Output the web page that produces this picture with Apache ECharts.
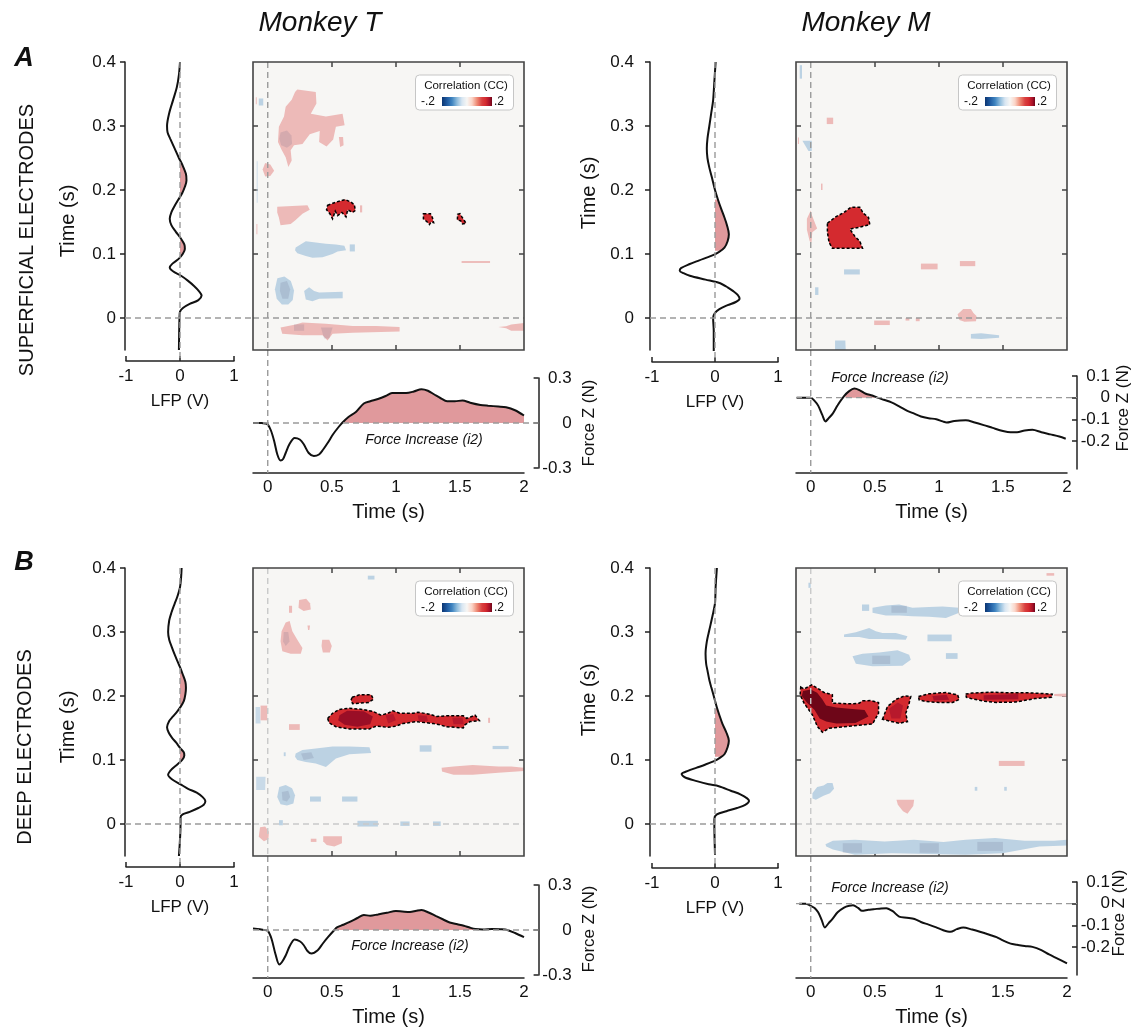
<!DOCTYPE html>
<html><head><meta charset="utf-8">
<script src="https://cdn.jsdelivr.net/npm/echarts@6/dist/echarts.min.js"></script>
<style>html,body{margin:0;padding:0;background:#fff}#c{width:1137px;height:1033px}</style>
</head><body><div id="c"></div>
<script>
// ---------------- DATA ----------------
const lfpTicks = [-1, 0, 1];
const lagTicks = [0, 0.1, 0.2, 0.3, 0.4];
const heatXTicks = [0.5, 1, 1.5];
const heatYTicks = [0.1, 0.2, 0.3];
const timeTicks = [0, 0.5, 1, 1.5, 2];
const forceTicksT = [-0.3, 0, 0.3];
const forceTicksM = [-0.2, -0.1, 0, 0.1];

// LFP traces: [lag time (s), LFP (V)]
const lfpAT = [[0.40,0.00],[0.38,-0.02],[0.36,-0.06],[0.34,-0.13],[0.32,-0.2],[0.30,-0.24],[0.29,-0.23],[0.28,-0.18],[0.265,-0.1],[0.25,-0.02],[0.24,0.04],[0.225,0.11],[0.215,0.12],[0.205,0.09],[0.195,0.04],[0.185,-0.03],[0.175,-0.1],[0.165,-0.16],[0.155,-0.19],[0.145,-0.16],[0.135,-0.08],[0.125,0.01],[0.115,0.08],[0.108,0.09],[0.10,0.05],[0.092,-0.03],[0.085,-0.14],[0.079,-0.19],[0.073,-0.13],[0.066,0.02],[0.058,0.15],[0.05,0.26],[0.042,0.35],[0.035,0.40],[0.028,0.34],[0.022,0.18],[0.016,0.06],[0.01,0.0],[0.0,-0.01],[-0.05,-0.02]];
const lfpAM = [[0.40,0.01],[0.37,-0.01],[0.34,-0.03],[0.32,-0.06],[0.30,-0.09],[0.28,-0.12],[0.265,-0.13],[0.25,-0.12],[0.235,-0.09],[0.22,-0.05],[0.20,0.0],[0.184,0.05],[0.17,0.1],[0.157,0.15],[0.145,0.19],[0.131,0.22],[0.12,0.2],[0.11,0.15],[0.103,0.06],[0.097,-0.06],[0.09,-0.25],[0.084,-0.41],[0.078,-0.54],[0.074,-0.56],[0.07,-0.5],[0.066,-0.4],[0.06,-0.15],[0.055,0.06],[0.048,0.2],[0.042,0.29],[0.036,0.36],[0.03,0.39],[0.025,0.33],[0.02,0.2],[0.014,0.07],[0.008,0.0],[0.0,-0.03],[-0.02,-0.02],[-0.055,-0.02]];
const lfpBT = [[0.40,0.03],[0.385,0.02],[0.37,0.0],[0.355,-0.05],[0.344,-0.1],[0.33,-0.16],[0.318,-0.2],[0.30,-0.22],[0.288,-0.2],[0.276,-0.15],[0.265,-0.1],[0.255,-0.05],[0.245,0.0],[0.234,0.05],[0.222,0.1],[0.213,0.11],[0.203,0.1],[0.192,0.07],[0.183,0.01],[0.176,-0.05],[0.168,-0.13],[0.161,-0.2],[0.151,-0.24],[0.143,-0.21],[0.135,-0.15],[0.127,-0.07],[0.119,0.0],[0.112,0.07],[0.107,0.08],[0.1,0.04],[0.093,-0.05],[0.085,-0.16],[0.077,-0.22],[0.07,-0.15],[0.062,0.01],[0.055,0.15],[0.049,0.31],[0.042,0.42],[0.036,0.47],[0.03,0.44],[0.025,0.34],[0.019,0.18],[0.015,0.05],[0.01,0.01],[0.0,0.01],[-0.05,-0.02]];
const lfpBM = [[0.40,0.03],[0.37,0.01],[0.345,0.0],[0.325,-0.04],[0.303,-0.09],[0.285,-0.13],[0.266,-0.15],[0.25,-0.14],[0.24,-0.12],[0.225,-0.09],[0.214,-0.06],[0.2,-0.02],[0.182,0.03],[0.17,0.07],[0.156,0.12],[0.143,0.18],[0.13,0.22],[0.12,0.2],[0.109,0.15],[0.103,0.07],[0.099,0.0],[0.093,-0.15],[0.088,-0.29],[0.083,-0.43],[0.078,-0.53],[0.073,-0.48],[0.067,-0.29],[0.062,-0.1],[0.059,0.06],[0.052,0.25],[0.046,0.41],[0.04,0.51],[0.036,0.54],[0.03,0.48],[0.025,0.35],[0.02,0.18],[0.015,0.03],[0.008,-0.01],[0.0,-0.01],[-0.048,0.0]];
// shaded LFP lag windows [from, to]
const lfpFillAT = [[0.19,0.246],[0.095,0.122]];
const lfpFillAM = [[0.105,0.185]];
const lfpFillBT = [[0.183,0.24],[0.099,0.119]];
const lfpFillBM = [[0.105,0.18]];

// Force traces: [time (s), force (N)]
const forceAT = [[-0.115,0.0],[-0.05,0.0],[-0.02,-0.003],[0.0,-0.01],[0.025,-0.05],[0.05,-0.12],[0.075,-0.21],[0.1,-0.25],[0.12,-0.24],[0.14,-0.2],[0.17,-0.14],[0.21,-0.1],[0.25,-0.11],[0.28,-0.14],[0.32,-0.2],[0.36,-0.22],[0.4,-0.21],[0.43,-0.18],[0.47,-0.13],[0.51,-0.075],[0.55,-0.03],[0.58,0.0],[0.63,0.04],[0.69,0.075],[0.75,0.13],[0.8,0.145],[0.86,0.16],[0.92,0.18],[0.97,0.2],[1.02,0.2],[1.08,0.2],[1.14,0.21],[1.2,0.225],[1.25,0.215],[1.3,0.19],[1.35,0.165],[1.4,0.145],[1.46,0.145],[1.52,0.15],[1.58,0.135],[1.66,0.12],[1.72,0.115],[1.8,0.11],[1.86,0.105],[1.93,0.085],[2.0,0.05]];
const forceAM = [[-0.11,0.0],[-0.05,0.0],[0.0,0.0],[0.03,-0.015],[0.058,-0.037],[0.09,-0.08],[0.115,-0.11],[0.14,-0.095],[0.17,-0.075],[0.21,-0.035],[0.26,0.007],[0.3,0.03],[0.34,0.042],[0.38,0.035],[0.43,0.018],[0.48,0.01],[0.52,0.0],[0.57,-0.01],[0.63,-0.022],[0.69,-0.04],[0.75,-0.06],[0.8,-0.072],[0.86,-0.087],[0.92,-0.095],[0.98,-0.1],[1.03,-0.11],[1.06,-0.115],[1.12,-0.108],[1.21,-0.105],[1.28,-0.115],[1.35,-0.127],[1.42,-0.14],[1.5,-0.154],[1.56,-0.16],[1.61,-0.16],[1.67,-0.152],[1.73,-0.149],[1.8,-0.16],[1.87,-0.17],[1.94,-0.18],[1.99,-0.19]];
const forceBT = [[-0.115,0.01],[-0.06,0.005],[-0.03,0.0],[0.0,-0.005],[0.03,-0.06],[0.06,-0.16],[0.09,-0.23],[0.11,-0.215],[0.14,-0.17],[0.17,-0.11],[0.21,-0.063],[0.25,-0.075],[0.28,-0.1],[0.31,-0.14],[0.34,-0.157],[0.39,-0.135],[0.43,-0.09],[0.47,-0.048],[0.52,0.0],[0.54,0.017],[0.59,0.035],[0.64,0.054],[0.7,0.08],[0.75,0.1],[0.8,0.095],[0.86,0.104],[0.93,0.115],[1.0,0.126],[1.05,0.123],[1.11,0.12],[1.16,0.128],[1.2,0.133],[1.26,0.115],[1.31,0.094],[1.37,0.07],[1.42,0.05],[1.48,0.038],[1.53,0.028],[1.58,0.015],[1.62,0.007],[1.68,0.004],[1.75,0.007],[1.82,0.005],[1.87,0.0],[1.93,-0.02],[2.0,-0.048]];
const forceBM = [[-0.09,0.0],[-0.04,0.0],[0.0,-0.01],[0.03,-0.02],[0.058,-0.04],[0.085,-0.075],[0.11,-0.11],[0.14,-0.09],[0.17,-0.07],[0.21,-0.04],[0.26,-0.018],[0.3,-0.01],[0.33,-0.008],[0.37,-0.02],[0.4,-0.033],[0.45,-0.028],[0.49,-0.026],[0.55,-0.022],[0.59,-0.021],[0.64,-0.035],[0.69,-0.06],[0.75,-0.065],[0.81,-0.071],[0.86,-0.085],[0.92,-0.097],[0.98,-0.11],[1.03,-0.122],[1.09,-0.13],[1.14,-0.118],[1.19,-0.11],[1.26,-0.12],[1.32,-0.13],[1.4,-0.145],[1.45,-0.155],[1.5,-0.17],[1.56,-0.185],[1.61,-0.19],[1.67,-0.196],[1.73,-0.2],[1.8,-0.215],[1.86,-0.235],[1.93,-0.255],[2.0,-0.276]];
const forceFillAT = [[0.58,2.0]];
const forceFillAM = [[0.27,0.5]];
const forceFillBT = [[0.53,1.62]];
const forceFillBM = [];

// Correlation clusters: cc value, kind (n = not significant, s = significant cluster, c = stronger core, g = darker patch), outline [time, lag]
const blobsAT = [
{cc:0.13,kind:'n',pts:[[0.231,0.357],[0.375,0.353],[0.380,0.335],[0.336,0.319],[0.454,0.315],[0.584,0.319],[0.600,0.301],[0.532,0.299],[0.511,0.279],[0.459,0.268],[0.401,0.275],[0.406,0.292],[0.328,0.287],[0.271,0.272],[0.205,0.270],[0.179,0.262],[0.187,0.246],[0.161,0.236],[0.140,0.251],[0.108,0.263],[0.080,0.275],[0.087,0.299],[0.127,0.315],[0.140,0.330],[0.187,0.341],[0.213,0.353]]},
{cc:0.13,kind:'n',pts:[[0.555,0.283],[0.588,0.283],[0.592,0.270],[0.565,0.267]]},
{cc:0.13,kind:'n',pts:[[-0.04,0.232],[-0.02,0.242],[0.02,0.240],[0.05,0.230],[0.02,0.222],[-0.02,0.221]]},
{cc:-0.1,kind:'n',pts:[[-0.086,0.245],[-0.079,0.245],[-0.079,0.18],[-0.086,0.18]]},
{cc:-0.12,kind:'n',pts:[[-0.07,0.343],[-0.035,0.343],[-0.035,0.332],[-0.07,0.332]]},
{cc:0.13,kind:'n',pts:[[-0.093,0.345],[-0.086,0.345],[-0.086,0.334],[-0.093,0.334]]},
{cc:0.13,kind:'n',pts:[[-0.088,0.147],[-0.081,0.147],[-0.081,0.131],[-0.088,0.131]]},
{cc:0.13,kind:'n',pts:[[0.074,0.174],[0.310,0.176],[0.328,0.169],[0.271,0.163],[0.218,0.153],[0.179,0.147],[0.100,0.145],[0.087,0.157],[0.074,0.165]]},
{cc:0.13,kind:'n',pts:[[0.72,0.176],[0.737,0.176],[0.737,0.165],[0.72,0.165]]},
{cc:-0.12,kind:'n',pts:[[0.218,0.110],[0.297,0.120],[0.375,0.118],[0.454,0.116],[0.532,0.115],[0.598,0.113],[0.611,0.106],[0.545,0.104],[0.506,0.100],[0.428,0.095],[0.349,0.094],[0.297,0.097],[0.231,0.101],[0.213,0.106]]},
{cc:-0.12,kind:'n',pts:[[0.64,0.115],[0.68,0.115],[0.68,0.104],[0.64,0.104]]},
{cc:0.13,kind:'n',pts:[[1.513,0.089],[1.735,0.089],[1.735,0.086],[1.513,0.086]]},
{cc:-0.12,kind:'n',pts:[[0.075,0.062],[0.13,0.065],[0.18,0.058],[0.205,0.043],[0.195,0.028],[0.16,0.021],[0.11,0.021],[0.07,0.03],[0.056,0.045]]},
{cc:-0.12,kind:'n',pts:[[0.284,0.042],[0.323,0.048],[0.362,0.042],[0.401,0.040],[0.585,0.041],[0.585,0.031],[0.401,0.030],[0.349,0.026],[0.297,0.029]]},
{cc:0.13,kind:'n',pts:[[0.100,-0.015],[0.218,-0.010],[0.271,-0.007],[0.454,-0.009],[0.663,-0.0125],[0.846,-0.0125],[1.029,-0.014],[1.029,-0.021],[0.663,-0.023],[0.506,-0.0246],[0.467,-0.035],[0.428,-0.027],[0.271,-0.027],[0.113,-0.0246]]},
{cc:0.13,kind:'n',pts:[[1.80,-0.014],[1.86,-0.013],[1.9,-0.01],[2.0,-0.008],[2.0,-0.02],[1.9,-0.02],[1.86,-0.016]]},
{cc:0,kind:'g',pts:[[0.10,0.29],[0.15,0.293],[0.185,0.285],[0.19,0.272],[0.15,0.266],[0.105,0.27],[0.09,0.28]]},
{cc:0,kind:'g',pts:[[0.1,0.055],[0.15,0.058],[0.175,0.045],[0.16,0.03],[0.115,0.03],[0.095,0.042]]},
{cc:0,kind:'g',pts:[[0.205,-0.01],[0.284,-0.01],[0.284,-0.02],[0.205,-0.02]]},
{cc:0,kind:'g',pts:[[0.415,-0.015],[0.506,-0.015],[0.48,-0.032],[0.44,-0.032]]},
{cc:0.15,kind:'s',pts:[[0.467,0.176],[0.532,0.181],[0.605,0.185],[0.650,0.181],[0.676,0.177],[0.684,0.168],[0.663,0.165],[0.624,0.169],[0.611,0.158],[0.579,0.165],[0.545,0.160],[0.527,0.167],[0.506,0.155],[0.485,0.163],[0.459,0.169]]},
{cc:0.15,kind:'s',pts:[[1.215,0.163],[1.27,0.163],[1.285,0.157],[1.295,0.149],[1.275,0.150],[1.262,0.146],[1.245,0.150],[1.215,0.155]]},
{cc:0.15,kind:'s',pts:[[1.482,0.162],[1.50,0.163],[1.515,0.158],[1.535,0.152],[1.548,0.148],[1.52,0.147],[1.505,0.152],[1.48,0.153]]}
];
const blobsAM = [
{cc:0.13,kind:'n',pts:[[-0.03,0.155],[0.0,0.168],[0.01,0.16],[0.04,0.145],[0.05,0.14],[0.012,0.134],[0.006,0.118],[-0.008,0.12],[-0.03,0.138]]},
{cc:0.13,kind:'n',pts:[[0.125,0.313],[0.175,0.313],[0.175,0.303],[0.125,0.303]]},
{cc:-0.12,kind:'n',pts:[[-0.065,0.277],[0.008,0.277],[0.008,0.261],[-0.018,0.261]]},
{cc:-0.12,kind:'n',pts:[[-0.086,0.395],[-0.068,0.395],[-0.068,0.374],[-0.086,0.374]]},
{cc:0.13,kind:'n',pts:[[0.08,0.21],[0.092,0.21],[0.092,0.2],[0.08,0.2]]},
{cc:0.13,kind:'n',pts:[[-0.1,0.282],[-0.092,0.282],[-0.092,0.272],[-0.1,0.272]]},
{cc:-0.12,kind:'n',pts:[[0.26,0.076],[0.383,0.076],[0.383,0.068],[0.26,0.068]]},
{cc:-0.12,kind:'n',pts:[[0.034,0.048],[0.06,0.048],[0.06,0.036],[0.034,0.036]]},
{cc:0.13,kind:'n',pts:[[0.86,0.085],[0.99,0.085],[0.99,0.076],[0.86,0.076]]},
{cc:0.13,kind:'n',pts:[[1.164,0.089],[1.284,0.089],[1.284,0.081],[1.164,0.081]]},
{cc:0.13,kind:'n',pts:[[1.146,0.006],[1.17,0.01],[1.19,0.014],[1.25,0.014],[1.27,0.008],[1.294,0.003],[1.29,-0.005],[1.2,-0.006],[1.16,-0.003]]},
{cc:0.13,kind:'n',pts:[[0.495,-0.004],[0.617,-0.004],[0.617,-0.011],[0.495,-0.011]]},
{cc:0.13,kind:'n',pts:[[0.74,0.0],[0.77,0.0],[0.77,-0.004],[0.74,-0.004]]},
{cc:0.13,kind:'n',pts:[[0.82,0.0],[0.85,0.0],[0.85,-0.005],[0.82,-0.005]]},
{cc:-0.12,kind:'n',pts:[[1.25,-0.025],[1.33,-0.024],[1.47,-0.027],[1.47,-0.031],[1.33,-0.033],[1.25,-0.032]]},
{cc:-0.12,kind:'n',pts:[[0.19,-0.035],[0.27,-0.035],[0.273,-0.05],[0.19,-0.05]]},
{cc:0.15,kind:'s',pts:[[0.130,0.148],[0.195,0.158],[0.260,0.165],[0.3125,0.173],[0.383,0.173],[0.409,0.164],[0.451,0.157],[0.461,0.146],[0.383,0.142],[0.305,0.139],[0.346,0.127],[0.383,0.120],[0.404,0.109],[0.169,0.109],[0.143,0.118],[0.130,0.134]]}
];
const blobsBT = [
{cc:0.13,kind:'n',pts:[[0.140,0.315],[0.171,0.317],[0.192,0.301],[0.231,0.288],[0.271,0.275],[0.258,0.266],[0.179,0.266],[0.114,0.270],[0.100,0.2855],[0.108,0.301]]},
{cc:0.13,kind:'n',pts:[[0.245,0.350],[0.30,0.352],[0.33,0.345],[0.336,0.335],[0.28,0.333],[0.24,0.338]]},
{cc:0.13,kind:'n',pts:[[0.166,0.341],[0.19,0.341],[0.19,0.33],[0.166,0.33]]},
{cc:0.13,kind:'n',pts:[[0.31,0.31],[0.33,0.31],[0.325,0.303],[0.315,0.303]]},
{cc:0.13,kind:'n',pts:[[0.425,0.288],[0.48,0.288],[0.50,0.278],[0.485,0.268],[0.43,0.268],[0.42,0.278]]},
{cc:0.13,kind:'n',pts:[[0.166,0.156],[0.25,0.156],[0.25,0.147],[0.166,0.147]]},
{cc:-0.12,kind:'n',pts:[[0.218,0.110],[0.271,0.1156],[0.375,0.118],[0.506,0.121],[0.637,0.121],[0.794,0.120],[0.807,0.111],[0.637,0.109],[0.532,0.1025],[0.454,0.089],[0.375,0.0946],[0.297,0.097],[0.231,0.0999],[0.213,0.105]]},
{cc:-0.12,kind:'n',pts:[[1.186,0.123],[1.278,0.123],[1.278,0.113],[1.186,0.113]]},
{cc:-0.12,kind:'n',pts:[[0.125,0.112],[0.14,0.112],[0.14,0.106],[0.125,0.106]]},
{cc:-0.12,kind:'n',pts:[[1.755,0.122],[1.88,0.122],[1.88,0.117],[1.755,0.117]]},
{cc:0.13,kind:'n',pts:[[1.357,0.088],[1.45,0.09],[1.6,0.092],[1.8,0.09],[1.9,0.09],[2.0,0.088],[2.0,0.083],[1.8,0.08],[1.6,0.077],[1.45,0.077],[1.36,0.082]]},
{cc:0.13,kind:'n',pts:[[1.72,0.166],[1.735,0.166],[1.735,0.158],[1.72,0.158]]},
{cc:-0.12,kind:'n',pts:[[0.09,0.058],[0.14,0.061],[0.19,0.056],[0.213,0.045],[0.2,0.032],[0.15,0.029],[0.1,0.031],[0.074,0.042]]},
{cc:-0.12,kind:'n',pts:[[0.33,0.043],[0.415,0.043],[0.415,0.035],[0.33,0.035]]},
{cc:-0.12,kind:'n',pts:[[0.58,0.043],[0.70,0.043],[0.70,0.035],[0.58,0.035]]},
{cc:-0.12,kind:'n',pts:[[0.088,0.006],[0.118,0.006],[0.118,-0.002],[0.088,-0.002]]},
{cc:-0.12,kind:'n',pts:[[0.70,0.005],[0.86,0.005],[0.86,-0.004],[0.70,-0.004]]},
{cc:-0.12,kind:'n',pts:[[1.035,0.004],[1.107,0.004],[1.107,-0.003],[1.035,-0.003]]},
{cc:-0.12,kind:'n',pts:[[1.29,0.004],[1.35,0.004],[1.35,-0.003],[1.29,-0.003]]},
{cc:0.13,kind:'n',pts:[[-0.06,-0.005],[-0.02,-0.004],[0.009,-0.012],[0.005,-0.024],[-0.03,-0.027],[-0.07,-0.02]]},
{cc:0.13,kind:'n',pts:[[0.433,-0.019],[0.579,-0.019],[0.579,-0.03],[0.52,-0.035],[0.46,-0.033],[0.433,-0.027]]},
{cc:0.13,kind:'n',pts:[[0.336,-0.023],[0.38,-0.023],[0.38,-0.028],[0.336,-0.028]]},
{cc:-0.1,kind:'n',pts:[[-0.095,0.183],[-0.06,0.183],[-0.056,0.157],[-0.095,0.157]]},
{cc:0.13,kind:'n',pts:[[-0.056,0.185],[-0.004,0.185],[-0.004,0.162],[-0.056,0.162]]},
{cc:-0.1,kind:'n',pts:[[-0.09,0.074],[-0.017,0.074],[-0.02,0.053],[-0.09,0.053]]},
{cc:-0.12,kind:'n',pts:[[0.781,0.388],[0.833,0.388],[0.833,0.382],[0.781,0.382]]},
{cc:0,kind:'g',pts:[[0.125,0.3],[0.16,0.3],[0.17,0.285],[0.14,0.278],[0.12,0.285]]},
{cc:0,kind:'g',pts:[[0.11,0.05],[0.16,0.052],[0.175,0.042],[0.15,0.035],[0.115,0.037]]},
{cc:0,kind:'g',pts:[[0.26,0.11],[0.34,0.112],[0.36,0.103],[0.28,0.1]]},
{cc:0.15,kind:'s',pts:[[0.467,0.165],[0.506,0.173],[0.558,0.179],[0.637,0.181],[0.741,0.179],[0.820,0.176],[0.885,0.170],[0.938,0.173],[0.977,0.177],[1.029,0.173],[1.134,0.173],[1.173,0.1746],[1.265,0.1715],[1.317,0.168],[1.396,0.169],[1.526,0.169],[1.553,0.165],[1.618,0.170],[1.652,0.1616],[1.579,0.160],[1.539,0.155],[1.526,0.150],[1.396,0.152],[1.343,0.155],[1.291,0.157],[1.160,0.160],[1.055,0.157],[1.003,0.153],[0.938,0.151],[0.846,0.153],[0.794,0.1485],[0.637,0.1485],[0.532,0.152],[0.480,0.158]]},
{cc:0.15,kind:'s',pts:[[0.658,0.198],[0.716,0.2018],[0.807,0.2018],[0.825,0.195],[0.788,0.190],[0.728,0.189],[0.663,0.188],[0.650,0.193]]},
{cc:0.185,kind:'c',pts:[[0.56,0.17],[0.62,0.177],[0.75,0.176],[0.82,0.168],[0.80,0.156],[0.7,0.152],[0.6,0.155],[0.55,0.162]]},
{cc:0.17,kind:'c',pts:[[0.92,0.17],[0.98,0.172],[1.0,0.162],[0.94,0.157]]},
{cc:0.17,kind:'c',pts:[[1.17,0.17],[1.24,0.169],[1.25,0.161],[1.18,0.16]]},
{cc:0.17,kind:'c',pts:[[1.44,0.166],[1.52,0.166],[1.53,0.156],[1.45,0.156]]}
];
const blobsBM = [
{cc:-0.12,kind:'n',pts:[[0.482,0.338],[0.586,0.3414],[0.690,0.343],[0.794,0.338],[0.924,0.339],[1.029,0.340],[1.159,0.338],[1.159,0.330],[1.055,0.322],[0.924,0.3237],[0.794,0.3247],[0.690,0.3257],[0.586,0.3257],[0.482,0.330]]},
{cc:-0.12,kind:'n',pts:[[0.40,0.343],[0.456,0.343],[0.456,0.333],[0.40,0.333]]},
{cc:-0.12,kind:'n',pts:[[0.260,0.296],[0.352,0.2996],[0.456,0.3064],[0.508,0.3012],[0.560,0.2986],[0.664,0.2986],[0.755,0.2933],[0.742,0.288],[0.560,0.2891],[0.456,0.2891],[0.378,0.2923],[0.260,0.2923]]},
{cc:-0.12,kind:'n',pts:[[0.911,0.296],[1.10,0.296],[1.10,0.2855],[0.911,0.2855]]},
{cc:-0.12,kind:'n',pts:[[0.326,0.262],[0.404,0.266],[0.534,0.268],[0.677,0.2714],[0.768,0.2646],[0.781,0.2567],[0.716,0.2473],[0.482,0.2463],[0.352,0.2505]]},
{cc:-0.12,kind:'n',pts:[[1.055,0.267],[1.146,0.267],[1.146,0.258],[1.055,0.258]]},
{cc:-0.12,kind:'n',pts:[[0.115,-0.0315],[0.173,-0.026],[0.345,-0.0246],[0.576,-0.0273],[0.806,-0.0246],[1.036,-0.0283],[1.209,-0.0246],[1.439,-0.022],[1.669,-0.026],[1.899,-0.026],[2.0,-0.0246],[2.0,-0.0335],[1.784,-0.035],[1.496,-0.0456],[1.209,-0.048],[0.921,-0.047],[0.633,-0.0456],[0.345,-0.048],[0.173,-0.040],[0.121,-0.035]]},
{cc:-0.12,kind:'n',pts:[[0.013,0.048],[0.05,0.058],[0.1,0.06],[0.13,0.064],[0.17,0.064],[0.182,0.055],[0.15,0.048],[0.1,0.044],[0.04,0.038],[0.013,0.04]]},
{cc:-0.12,kind:'n',pts:[[1.28,0.058],[1.30,0.058],[1.30,0.052],[1.28,0.052]]},
{cc:-0.12,kind:'n',pts:[[1.51,0.058],[1.53,0.058],[1.53,0.052],[1.51,0.052]]},
{cc:-0.12,kind:'n',pts:[[-0.018,0.377],[0.0,0.377],[0.0,0.369],[-0.018,0.369]]},
{cc:0.13,kind:'n',pts:[[0.669,0.038],[0.807,0.038],[0.80,0.028],[0.755,0.016],[0.72,0.02],[0.68,0.03]]},
{cc:0.13,kind:'n',pts:[[1.468,0.0986],[1.669,0.0986],[1.669,0.0907],[1.468,0.0907]]},
{cc:0.13,kind:'n',pts:[[1.84,0.392],[1.9,0.392],[1.9,0.388],[1.84,0.388]]},
{cc:0.13,kind:'n',pts:[[1.9,0.203],[2.0,0.204],[2.0,0.199],[1.9,0.2]]},
{cc:0,kind:'g',pts:[[0.63,0.341],[0.75,0.341],[0.75,0.33],[0.63,0.33]]},
{cc:0,kind:'g',pts:[[0.48,0.263],[0.62,0.263],[0.62,0.25],[0.48,0.25]]},
{cc:0,kind:'g',pts:[[0.25,-0.03],[0.4,-0.03],[0.4,-0.045],[0.25,-0.045]]},
{cc:0,kind:'g',pts:[[0.85,-0.03],[1.0,-0.03],[1.0,-0.045],[0.85,-0.045]]},
{cc:0,kind:'g',pts:[[1.3,-0.028],[1.5,-0.028],[1.5,-0.042],[1.3,-0.042]]},
{cc:0.15,kind:'s',pts:[[-0.078,0.214],[-0.052,0.211],[0.008,0.2175],[0.052,0.2123],[0.104,0.2055],[0.169,0.202],[0.169,0.1888],[0.326,0.1877],[0.378,0.1888],[0.404,0.1924],[0.469,0.1929],[0.529,0.1898],[0.529,0.173],[0.482,0.1563],[0.404,0.1548],[0.326,0.1532],[0.221,0.1511],[0.143,0.1495],[0.091,0.1433],[0.052,0.1522],[0.013,0.1705],[-0.052,0.1888],[-0.083,0.202]]},
{cc:0.15,kind:'s',pts:[[0.560,0.1637],[0.599,0.1835],[0.664,0.1946],[0.729,0.200],[0.781,0.1992],[0.768,0.1888],[0.742,0.173],[0.755,0.160],[0.690,0.1574],[0.599,0.1616]]},
{cc:0.15,kind:'s',pts:[[0.841,0.1992],[0.924,0.2034],[1.055,0.2055],[1.146,0.2018],[1.159,0.1946],[1.107,0.1898],[1.003,0.1898],[0.898,0.1914],[0.846,0.194]]},
{cc:0.15,kind:'s',pts:[[1.209,0.203],[1.26,0.2045],[1.40,0.206],[1.55,0.205],[1.70,0.205],[1.885,0.203],[1.88,0.198],[1.75,0.196],[1.6,0.1905],[1.45,0.19],[1.35,0.192],[1.25,0.196],[1.215,0.198]]},
{cc:0.2,kind:'c',pts:[[-0.06,0.208],[0.0,0.21],[0.05,0.205],[0.09,0.195],[0.12,0.185],[0.2,0.182],[0.3,0.18],[0.42,0.178],[0.45,0.168],[0.35,0.158],[0.2,0.157],[0.12,0.16],[0.07,0.165],[0.03,0.178],[-0.03,0.19],[-0.07,0.2]]},
{cc:0.17,kind:'c',pts:[[0.61,0.18],[0.68,0.19],[0.72,0.185],[0.7,0.165],[0.63,0.165]]},
{cc:0.18,kind:'c',pts:[[0.95,0.2],[1.06,0.202],[1.08,0.194],[0.96,0.193]]},
{cc:0.18,kind:'c',pts:[[1.35,0.201],[1.62,0.203],[1.62,0.195],[1.35,0.194]]}
];

// ---------------- LAYOUT / STYLE ----------------
const FONT = "'Liberation Sans', Arial, Helvetica, sans-serif";
const INK = '#111';
const AXC = '#222';
const HEAT_BG = '#f7f6f4';
const FILL = '#e0999c';
const CMAP = [[-0.2,[11,53,114]],[-0.16,[31,90,160]],[-0.12,[63,132,192]],[-0.08,[143,188,220]],[-0.04,[216,230,242]],[0,[247,246,244]],[0.04,[251,213,200]],[0.08,[238,138,116]],[0.12,[217,64,64]],[0.15,[212,42,47]],[0.18,[168,17,42]],[0.2,[110,6,24]]];
function ccRGB(cc){
  if (cc <= CMAP[0][0]) return CMAP[0][1];
  for (let i=0;i<CMAP.length-1;i++){
    const [a,ca]=CMAP[i],[b,cb]=CMAP[i+1];
    if (cc>=a && cc<=b){const f=(cc-a)/(b-a);return ca.map((v,k)=>Math.round(v+(cb[k]-v)*f));}
  }
  return CMAP[CMAP.length-1][1];
}
const rgb = c => 'rgb('+c.join(',')+')';
function paleRGB(cc){ const c=ccRGB(cc), bg=[247,246,244], a=0.32; return c.map((v,k)=>Math.round(bg[k]*(1-a)+v*a)); }

const PANELS = [
 {lfp:lfpAT, lfpFill:lfpFillAT, force:forceAT, forceFill:forceFillAT, blobs:blobsAT, fmin:-0.3, fmax:0.3, fticks:forceTicksT, light:false,
  L:{left:126,top:62,width:108,height:288,xOff:11,yOff:1,labMargin:9}, H:{left:253,top:62,width:271,height:288},
  F:{left:253,top:378,width:271,height:90,xOff:5,yOff:14.6,labMargin:33},
  tName:[68,221], fName:[589,423], fText:[424,440]},
 {lfp:lfpAM, lfpFill:lfpFillAM, force:forceAM, forceFill:forceFillAM, blobs:blobsAM, fmin:-0.33, fmax:0.1, fticks:forceTicksM, light:false,
  L:{left:652,top:62,width:126,height:288,xOff:12,yOff:2,labMargin:16}, H:{left:796,top:62,width:271,height:288},
  F:{left:796,top:376,width:271,height:93,xOff:4,yOff:10,labMargin:33},
  tName:[589,193], fName:[1123,408], fText:[890,378]},
 {lfp:lfpBT, lfpFill:lfpFillBT, force:forceBT, forceFill:forceFillBT, blobs:blobsBT, fmin:-0.3, fmax:0.3, fticks:forceTicksT, light:true,
  L:{left:126,top:568,width:108,height:288,xOff:11,yOff:1,labMargin:9}, H:{left:253,top:568,width:271,height:288},
  F:{left:253,top:885,width:271,height:90,xOff:3,yOff:14.6,labMargin:33},
  tName:[68,727], fName:[589,929], fText:[410,946]},
 {lfp:lfpBM, lfpFill:lfpFillBM, force:forceBM, forceFill:forceFillBM, blobs:blobsBM, fmin:-0.33, fmax:0.1, fticks:forceTicksM, light:true,
  L:{left:652,top:568,width:126,height:288,xOff:12,yOff:2,labMargin:16}, H:{left:796,top:568,width:271,height:288},
  F:{left:796,top:882,width:271,height:93,xOff:3,yOff:10,labMargin:33},
  tName:[589,700], fName:[1119,913], fText:[890,888]}
];

function interpAt(curve, x){
  for (let i=0;i<curve.length-1;i++){
    const [x0,y0]=curve[i],[x1,y1]=curve[i+1];
    if (x>=x0 && x<=x1) return x1===x0?y0:y0+(y1-y0)*(x-x0)/(x1-x0);
  }
  return x<curve[0][0]?curve[0][1]:curve[curve.length-1][1];
}
function fillPoly(curve, a, b){ // curve sorted ascending by first coord
  const pts=[[a,Math.max(0,interpAt(curve,a))]];
  curve.forEach(([x,y])=>{ if(x>a&&x<b) pts.push([x,Math.max(0,y)]); });
  pts.push([b,Math.max(0,interpAt(curve,b))]);
  pts.push([b,0]); pts.push([a,0]);
  return pts;
}
const kindOrder = {n:0,g:1,s:2,c:3};
const lbl = (extra) => Object.assign({fontSize:17,color:INK,fontFamily:FONT},extra);

const grids=[], xAxes=[], yAxes=[], series=[];
PANELS.forEach((P)=>{
  const gL=grids.length, gH=gL+1, gF=gL+2;
  grids.push({left:P.L.left,top:P.L.top,width:P.L.width,height:P.L.height});
  grids.push({left:P.H.left,top:P.H.top,width:P.H.width,height:P.H.height,show:true,backgroundColor:HEAT_BG,borderWidth:0});
  grids.push({left:P.F.left,top:P.F.top,width:P.F.width,height:P.F.height});
  // LFP axes
  const xL=xAxes.length;
  xAxes.push({type:'value',gridIndex:gL,min:-1,max:1,position:'bottom',offset:P.L.xOff,
    axisLine:{show:true,onZero:false,lineStyle:{color:AXC,width:1.5}},
    axisTick:{show:true,inside:true,length:5,customValues:lfpTicks,lineStyle:{color:AXC,width:1.5}},
    axisLabel:lbl({customValues:lfpTicks,formatter:v=>String(v),margin:7}),
    splitLine:{show:false},name:'LFP (V)',nameLocation:'middle',nameGap:32,nameTextStyle:lbl({})});
  const yL=yAxes.length;
  yAxes.push({type:'value',gridIndex:gL,min:-0.05,max:0.4,position:'left',offset:P.L.yOff,
    axisLine:{show:true,onZero:false,lineStyle:{color:AXC,width:1.5}},
    axisTick:{show:true,inside:false,length:5,customValues:lagTicks,lineStyle:{color:AXC,width:1.5}},
    axisLabel:lbl({customValues:lagTicks,formatter:v=>String(v),margin:P.L.labMargin}),
    splitLine:{show:false}});
  // heat axes (tick marks only; frame drawn separately)
  const hx=(pos)=>({type:'value',gridIndex:gH,min:-0.115,max:2,position:pos,axisLine:{show:false,onZero:false},
    axisTick:{show:true,inside:true,length:5,customValues:heatXTicks,lineStyle:{color:'#444',width:1.5}},
    axisLabel:{show:false},splitLine:{show:false}});
  const hy=(pos)=>({type:'value',gridIndex:gH,min:-0.05,max:0.4,position:pos,axisLine:{show:false,onZero:false},
    axisTick:{show:true,inside:true,length:5,customValues:heatYTicks,lineStyle:{color:'#444',width:1.5}},
    axisLabel:{show:false},splitLine:{show:false}});
  const xH=xAxes.length; xAxes.push(hx('bottom')); xAxes.push(hx('top'));
  const yH=yAxes.length; yAxes.push(hy('left')); yAxes.push(hy('right'));
  // force axes
  const xF=xAxes.length;
  xAxes.push({type:'value',gridIndex:gF,min:-0.115,max:2,position:'bottom',offset:P.F.xOff,
    axisLine:{show:true,onZero:false,lineStyle:{color:AXC,width:1.5}},axisTick:{show:false},
    axisLabel:lbl({customValues:timeTicks,formatter:v=>String(v),margin:6}),
    splitLine:{show:false},name:'Time (s)',nameLocation:'middle',nameGap:29,nameTextStyle:lbl({fontSize:20})});
  const yF=yAxes.length;
  yAxes.push({type:'value',gridIndex:gF,min:P.fmin,max:P.fmax,position:'right',offset:P.F.yOff,
    axisLine:{show:true,onZero:false,lineStyle:{color:AXC,width:1.5}},
    axisTick:{show:true,inside:true,length:5,customValues:P.fticks,lineStyle:{color:AXC,width:1.5}},
    axisLabel:lbl({customValues:P.fticks,formatter:v=>String(v),margin:P.F.labMargin,align:'right'}),
    splitLine:{show:false}});

  // LFP fill + line
  const lfpSorted=P.lfp.slice().sort((a,b)=>a[0]-b[0]);
  series.push({type:'custom',xAxisIndex:xL,yAxisIndex:yL,z:2,silent:true,
    data:P.lfpFill.map(w=>w.slice()),
    renderItem:(params,api)=>{
      const w=P.lfpFill[params.dataIndex];
      const pts=fillPoly(lfpSorted,w[0],w[1]).map(([t,v])=>api.coord([v,t]));
      return {type:'polygon',shape:{points:pts},style:{fill:FILL}};
    }});
  series.push({type:'line',xAxisIndex:xL,yAxisIndex:yL,z:3,data:P.lfp.map(([t,v])=>[v,t]),
    showSymbol:false,smooth:0.3,lineStyle:{color:INK,width:2},silent:true});
  // heat clusters
  const blobs=P.blobs.slice().sort((a,b)=>kindOrder[a.kind]-kindOrder[b.kind]);
  series.push({type:'custom',xAxisIndex:xH,yAxisIndex:yH,z:2,clip:true,silent:true,
    data:blobs.map(b=>b.pts[0].slice()),
    renderItem:(params,api)=>{
      const b=blobs[params.dataIndex];
      const pts=b.pts.map(q=>api.coord(q));
      let style;
      if (b.kind==='n') style={fill:rgb(paleRGB(b.cc))};
      else if (b.kind==='g') style={fill:'rgba(90,90,125,0.16)'};
      else if (b.kind==='s') style={fill:rgb(ccRGB(b.cc)),stroke:'#000',lineWidth:1.5,lineDash:[3,2]};
      else style={fill:rgb(ccRGB(b.cc))};
      return {type:'polygon',shape:{points:pts},style};
    }});
  // force fill + line
  series.push({type:'custom',xAxisIndex:xF,yAxisIndex:yF,z:2,silent:true,
    data:P.forceFill.map(w=>w.slice()),
    renderItem:(params,api)=>{
      const w=P.forceFill[params.dataIndex];
      const pts=fillPoly(P.force,w[0],w[1]).map(q=>api.coord(q));
      return {type:'polygon',shape:{points:pts},style:{fill:FILL}};
    }});
  series.push({type:'line',xAxisIndex:xF,yAxisIndex:yF,z:3,data:P.force.map(q=>q.slice()),
    showSymbol:false,smooth:0.3,lineStyle:{color:INK,width:2},silent:true});
});

const chart = echarts.init(document.getElementById('c'),null,{renderer:'canvas'});
chart.setOption({animation:false,backgroundColor:'#fff',grid:grids,xAxis:xAxes,yAxis:yAxes,series});

// ---------------- annotations (dashed guides, frames, legends, labels) ----------------
const G=[];
const dash=(x1,y1,x2,y2,color)=>G.push({type:'line',z:50,silent:true,shape:{x1,y1,x2,y2},style:{stroke:color,lineWidth:1.4,lineDash:[6,4]}});
const txt=(x,y,text,font,align,rot)=>G.push({type:'text',x,y,rotation:rot||0,z:70,silent:true,
  style:{text,font,fill:INK,textAlign:align||'center',align:align||'center',textVerticalAlign:'middle',verticalAlign:'middle'}});
PANELS.forEach((P,p)=>{
  const gL=3*p,gH=3*p+1,gF=3*p+2;
  const px=(g,pt)=>chart.convertToPixel({gridIndex:g},pt);
  const inner = P.light ? '#c9c9c9' : '#9a9a9a';
  const outer = '#9a9a9a';
  const vt=px(gH,[0,0.4]), vb=px(gH,[0,-0.05]), fb=px(gF,[0,P.fmin]);
  dash(vt[0],vt[1],vt[0],vb[1],inner);
  dash(vt[0],vb[1],vt[0],fb[1]+P.F.xOff,outer);
  const h0=px(gH,[-0.115,0]), h1=px(gH,[2,0]), l0=px(gL,[-1,0]);
  dash(l0[0]-P.L.yOff,h0[1],h0[0],h0[1],outer);
  dash(h0[0],h0[1],h1[0],h1[1],inner);
  const lt=px(gL,[0,0.4]), lb=px(gL,[0,-0.05]);
  dash(lt[0],lt[1],lt[0],lb[1]+P.L.xOff,outer);
  const f0=px(gF,[-0.115,0]), f1=px(gF,[2,0]);
  dash(f0[0],f0[1],f1[0]+P.F.yOff,f1[1],outer);
  const tl=px(gH,[-0.115,0.4]), br=px(gH,[2,-0.05]);
  G.push({type:'rect',z:55,silent:true,shape:{x:tl[0],y:tl[1],width:br[0]-tl[0],height:br[1]-tl[1]},style:{fill:'none',stroke:'#444',lineWidth:1.6}});
  const R=br[0], T=tl[1];
  G.push({type:'rect',z:60,silent:true,shape:{x:R-108.5,y:T+13,width:98,height:35,r:4},style:{fill:'#fff',stroke:'#c6c6c6',lineWidth:1}});
  txt(R-58,T+23.5,'Correlation (CC)','11.5px '+FONT,'center');
  G.push({type:'rect',z:65,silent:true,shape:{x:R-82,y:T+35,width:50,height:9},
    style:{fill:{type:'linear',x:0,y:0,x2:1,y2:0,colorStops:CMAP.map(([v,c])=>({offset:(v+0.2)/0.4,color:rgb(c)}))}}});
  txt(R-89,T+40,'-.2','12px '+FONT,'right');
  txt(R-30,T+40,'.2','12px '+FONT,'left');
  txt(P.tName[0],P.tName[1],'Time (s)','20px '+FONT,'center',Math.PI/2);
  txt(P.fName[0],P.fName[1],'Force Z (N)','17px '+FONT,'center',Math.PI/2);
  txt(P.fText[0],P.fText[1],'Force Increase (i2)','italic 14px '+FONT,'center');
});
txt(320,23,'Monkey T','italic 28px '+FONT,'center');
txt(866,23,'Monkey M','italic 28px '+FONT,'center');
txt(24,59,'A','italic bold 27px '+FONT,'center');
txt(24,563,'B','italic bold 27px '+FONT,'center');
txt(27,240,'SUPERFICIAL ELECTRODES','20px '+FONT,'center',Math.PI/2);
txt(25,747,'DEEP ELECTRODES','20px '+FONT,'center',Math.PI/2);
chart.setOption({graphic:{elements:G}});
</script></body></html>
